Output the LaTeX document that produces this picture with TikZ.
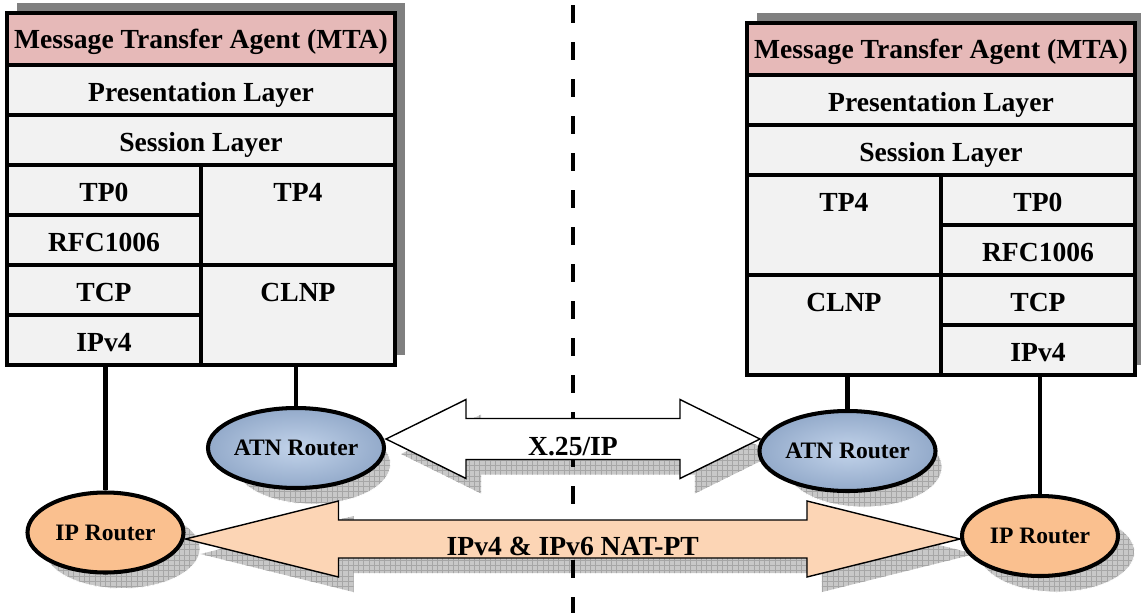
\documentclass[tikz,border=0pt]{standalone}
\usepackage{fontspec}
\setmainfont{Liberation Serif}
\usetikzlibrary{positioning,shapes.geometric,patterns,backgrounds}

\definecolor{mtapink}{HTML}{E6B9B8}
\definecolor{cellgray}{HTML}{F2F2F2}
\definecolor{shadowgray}{HTML}{808080}
\definecolor{atnlight}{HTML}{C2D3EA}
\definecolor{atndark}{HTML}{93AACA}
\definecolor{iporange}{HTML}{FAC08F}
\definecolor{natpeach}{HTML}{FCD5B5}
\definecolor{hatchgray}{HTML}{C8C8C8}

% tip A, tip B, head length, head half height, shaft half height
\newcommand{\blockarrow}[5]{(#1) -- ++(#3,#4) -- ++(0,#5-#4) -- ([shift={(-#3,#5)}]#2) -- ++(0,#4-#5) -- (#2) -- ++(-#3,-#4) -- ++(0,#4-#5) -- ([shift={(#3,-#5)}]#1) -- ++(0,#5-#4) -- cycle}

\tikzset{
    every node/.style={align=center,},
    celltext/.style={font=\fontsize{15.7}{18}\selectfont\bfseries,inner sep=0pt,text height=13pt,text depth=0pt,},
    cell/.style={celltext,draw,line width=1.8pt,fill=cellgray,outer sep=0pt,minimum height=1cm,},
    full/.style={cell,minimum width=7.76cm,},
    half/.style={cell,minimum width=3.88cm,},
    tall/.style={half,minimum height=2cm,},
    mta/.style={full,fill=mtapink,minimum height=1.04cm,text height=11pt,},
    frame/.style={draw,line width=2.8pt,},
    router/.style={draw,ellipse,line width=2.3pt,minimum width=3.12cm,minimum height=1.6cm,inner sep=0pt,font=\fontsize{13.4}{15}\selectfont\bfseries,},
    atn/.style={router,shading=radial,inner color=atnlight,outer color=atndark,},
    ip/.style={router,fill=iporange,},
    hatch/.style={preaction={fill=hatchgray},pattern=grid,pattern color=gray!70,},
    link/.style={line width=2.3pt,},
    block/.style={draw,line width=0.8pt,},
}

\begin{document}
\begin{tikzpicture}
    \useasboundingbox (0,0) rectangle (22.82,-12.26);

    \node[mta] (mtaL) at (4.02,-0.78) {Message Transfer Agent (MTA)};
    \node[full,below=0pt of mtaL] (presL) {Presentation Layer};
    \node[full,below=0pt of presL] (sessL) {Session Layer};
    \node[half,below right=0pt of sessL.south west] (tp0L) {TP0};
    \node[half,below=0pt of tp0L] (rfcL) {RFC1006};
    \node[half,below=0pt of rfcL] (tcpL) {TCP};
    \node[half,below=0pt of tcpL] (ipvL) {IPv4};
    \node[tall,below left=0pt of sessL.south east] (tp4L) {};
    \node[tall,below=0pt of tp4L] (clnpL) {};
    \node[celltext] (tp4Ltxt) at (tp4L.north |- tp0L) {TP4};
    \node[celltext] (clnpLtxt) at (clnpL.north |- tcpL) {CLNP};
    \draw[frame] (mtaL.north west) rectangle (clnpL.south east);

    \node[mta] (mtaR) at (18.82,-0.98) {Message Transfer Agent (MTA)};
    \node[full,below=0pt of mtaR] (presR) {Presentation Layer};
    \node[full,below=0pt of presR] (sessR) {Session Layer};
    \node[tall,below right=0pt of sessR.south west] (tp4R) {};
    \node[tall,below=0pt of tp4R] (clnpR) {};
    \node[half,below left=0pt of sessR.south east] (tp0R) {TP0};
    \node[half,below=0pt of tp0R] (rfcR) {RFC1006};
    \node[half,below=0pt of rfcR] (tcpR) {TCP};
    \node[half,below=0pt of tcpR] (ipvR) {IPv4};
    \node[celltext] (tp4Rtxt) at (tp4R.north |- tp0R) {TP4};
    \node[celltext] (clnpRtxt) at (clnpR.north |- tcpR) {CLNP};
    \draw[frame] (tp4R.north west |- mtaR.north) rectangle (ipvR.south east);

    \node[atn] (atnL) at (5.92,-8.96) {ATN Router};
    \node[ip] (ipL) at (2.11,-10.65) {IP Router};
    \node[atn] (atnR) at (16.95,-9.02) {ATN Router};
    \node[ip] (ipR) at (20.80,-10.72) {IP Router};

    \coordinate (x25a) at ([yshift=0.18cm]atnL.east);
    \path (atnR.west |- x25a) ++(0.05,0) coordinate (x25b);
    \coordinate (nata) at ([yshift=-0.13cm]ipL.east);
    \coordinate (natb) at (ipR.west |- nata);
    \coordinate (x25as) at ([shift={(0.3,-0.3)}]x25a);
    \coordinate (x25bs) at ([shift={(0.3,-0.3)}]x25b);
    \coordinate (natas) at ([shift={(0.3,-0.3)}]nata);
    \coordinate (natbs) at ([shift={(0.3,-0.3)}]natb);
    \coordinate (divtop) at (11.46,-0.1);
    \coordinate (divbot) at (11.46,-12.26);

    \path (x25a) -- (x25b) node[midway,celltext,yshift=-0.1cm] (x25lbl) {X.25/IP};
    \path (nata) -- (natb) node[midway,celltext,yshift=-0.1cm] (natlbl) {IPv4 \& IPv6 NAT-PT};

    \begin{scope}[on background layer]
        \fill[shadowgray] ([shift={(0.2,0.2)}]mtaL.north west) rectangle ([shift={(0.2,0.2)}]clnpL.south east);
        \fill[shadowgray] ([shift={(0.2,0.2)}]tp4R.north west |- mtaR.north) rectangle ([shift={(0.2,0.2)}]ipvR.south east);
        \foreach \r in {atnL,ipL,atnR,ipR}
            \path[hatch,draw=white,thin] ([shift={(0.33,-0.32)}]\r.center) ellipse (1.56cm and 0.8cm);
        \path[hatch] \blockarrow{x25as}{x25bs}{1.6}{0.79}{0.41};
        \path[hatch] \blockarrow{natas}{natbs}{3.06}{0.76}{0.38};
        \draw[line width=2.3pt,dash pattern=on 0.36cm off 0.38cm] (divtop) -- (divbot);
        \path[block,fill=white] \blockarrow{x25a}{x25b}{1.6}{0.79}{0.41};
        \path[block,fill=natpeach] \blockarrow{nata}{natb}{3.06}{0.76}{0.38};
        \draw[link] (ipL.north) -- (ipL.north |- ipvL.south);
        \draw[link] (atnL.north) -- (atnL.north |- clnpL.south);
        \draw[link] (atnR.north) -- (atnR.north |- clnpR.south);
        \draw[link] (ipR.north) -- (ipR.north |- ipvR.south);
    \end{scope}
\end{tikzpicture}
\end{document}
